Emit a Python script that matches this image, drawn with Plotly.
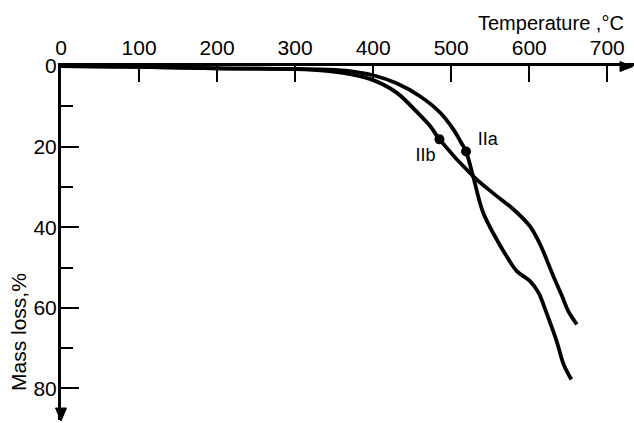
import plotly.graph_objects as go

# ---- data ----
temp_IIa = [0, 100, 200, 300, 340, 370, 400, 430, 460, 486, 503, 513, 519, 528, 541, 562, 571, 584, 601, 612, 622, 635, 644, 654]
loss_IIa = [0, 0.2, 0.6, 0.7, 0.9, 1.3, 2.3, 4.3, 7.5, 11.6, 15.8, 19.1, 21.2, 27.3, 36.4, 44.3, 47.2, 50.9, 53.4, 56.3, 61.2, 68.2, 74.0, 77.8]

temp_IIb = [0, 100, 200, 300, 340, 370, 400, 430, 456, 473, 485, 528, 554, 580, 601, 614, 631, 642, 650, 661]
loss_IIb = [0, 0.2, 0.6, 0.8, 1.2, 2.0, 3.5, 6.6, 11.4, 14.9, 18.2, 27.3, 31.6, 35.6, 39.8, 44.3, 52.2, 57.1, 60.8, 64.1]

point_names = ["IIa", "IIb"]
point_temp = [519, 485]
point_loss = [21.2, 18.2]
label_temp = [547, 467]
label_loss = [18.5, 22.5]

x_ticks = [0, 100, 200, 300, 400, 500, 600, 700]
y_ticks = [0, 20, 40, 60, 80]

# ---- geometry ----
W, H = 634, 423
L, R, T, B = 61, 0, 66, 3
PX_PER_C = 0.7804
PX_PER_PCT = 4.03
x_max = (W - L - R) / PX_PER_C
y_max = (H - T - B) / PX_PER_PCT

FONT = "Liberation Sans, Arial, sans-serif"

def px(x):
    return (x - L) / (W - L - R)

def py(y):
    return 1 - (y - T) / (H - T - B)

fig = go.Figure()
fig.add_trace(go.Scatter(x=temp_IIa, y=loss_IIa, mode="lines",
                         line=dict(color="black", width=3.8, shape="spline", smoothing=1.0),
                         showlegend=False, hoverinfo="skip"))
fig.add_trace(go.Scatter(x=temp_IIb, y=loss_IIb, mode="lines",
                         line=dict(color="black", width=3.8, shape="spline", smoothing=1.0),
                         showlegend=False, hoverinfo="skip"))
fig.add_trace(go.Scatter(x=point_temp, y=point_loss, mode="markers",
                         marker=dict(color="black", size=10),
                         showlegend=False, hoverinfo="skip"))
fig.add_trace(go.Scatter(x=label_temp, y=label_loss, mode="text", text=point_names,
                         textfont=dict(family=FONT, size=18, color="black"),
                         showlegend=False, hoverinfo="skip"))

# arrowheads at the axis ends
ax_y = T + 0.5
x_tip, x_base, x_half = W - 1, W - 14, 5
y_tip, y_base, y_half = H - 2, H - 15, 5.5
fig.add_shape(type="path", xref="paper", yref="paper",
              path=f"M {px(x_tip)} {py(ax_y)} L {px(x_base)} {py(ax_y - x_half)} L {px(x_base)} {py(ax_y + x_half)} Z",
              fillcolor="black", line=dict(color="black", width=1))
fig.add_shape(type="path", xref="paper", yref="paper",
              path=f"M {px(L)} {py(y_tip)} L {px(L - y_half)} {py(y_base)} L {px(L + y_half)} {py(y_base)} Z",
              fillcolor="black", line=dict(color="black", width=1))

fig.add_annotation(text="Temperature ,°C", xref="paper", yref="paper",
                   x=px(551), y=py(23), xanchor="center", yanchor="middle", showarrow=False,
                   font=dict(family=FONT, size=20, color="black"))
fig.add_annotation(text="Mass loss,%", xref="paper", yref="paper",
                   x=px(18), y=py(332), xanchor="center", yanchor="middle",
                   showarrow=False, textangle=-90,
                   font=dict(family=FONT, size=21, color="black"))

fig.update_xaxes(range=[0, x_max], side="top", tickvals=x_ticks,
                 showline=True, linecolor="black", linewidth=3,
                 ticks="inside", ticklen=16, tickwidth=2, tickcolor="black",
                 showgrid=False, zeroline=False,
                 tickfont=dict(family=FONT, size=21, color="black"))
fig.update_yaxes(range=[y_max, 0], tickvals=y_ticks,
                 showline=True, linecolor="black", linewidth=3,
                 ticks="inside", ticklen=18, tickwidth=2, tickcolor="black",
                 minor=dict(tickvals=[10, 30, 50, 70], ticks="inside", ticklen=12,
                            tickwidth=2, tickcolor="black", showgrid=False),
                 showgrid=False, zeroline=False, ticklabelstandoff=-3,
                 tickfont=dict(family=FONT, size=21, color="black"))

fig.update_layout(width=W, height=H, margin=dict(l=L, r=R, t=T, b=B),
                  plot_bgcolor="white", paper_bgcolor="white")

fig.write_html("out.html")
